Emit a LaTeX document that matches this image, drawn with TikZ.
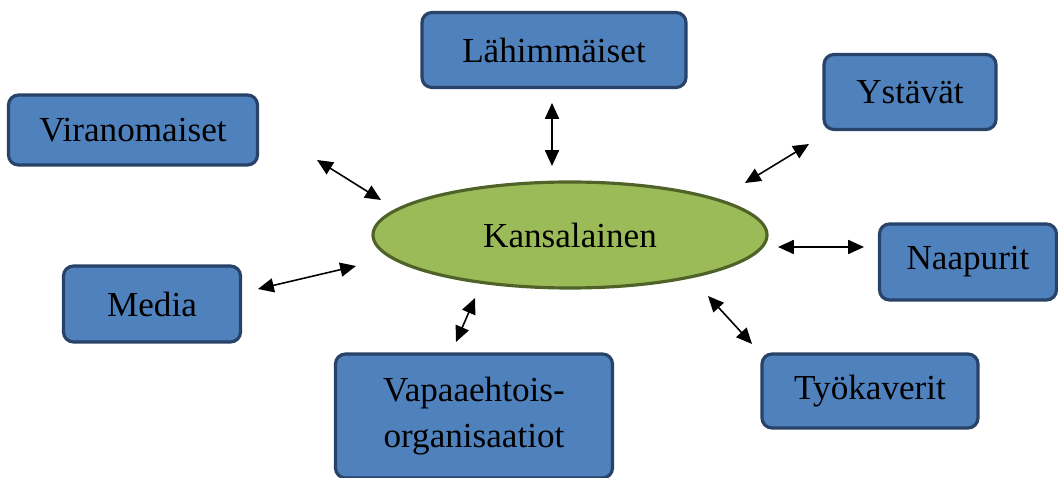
\documentclass[tikz,border=0pt]{standalone}
\usepackage{fontspec}
\setmainfont{Liberation Serif}
\usetikzlibrary{arrows.meta,shapes.geometric}
\definecolor{boxblue}{RGB}{79,129,189}
\definecolor{boxedge}{RGB}{40,66,104}
\definecolor{ellgreen}{RGB}{155,187,89}
\definecolor{elledge}{RGB}{79,98,40}
\begin{document}
\begin{tikzpicture}[line width=1.8pt,
  actor/.style={draw=boxedge,fill=boxblue,rounded corners=0.2cm,align=center,
    inner sep=0pt,font=\fontsize{20}{26}\selectfont},
  link/.style={{Triangle[length=9pt,width=8pt]}-{Triangle[length=9pt,width=8pt]},
    line width=0.9pt,black}]
\useasboundingbox (0,0) rectangle (21.16,9.56);
% centre
\node[ellipse,draw=elledge,fill=ellgreen,minimum width=7.88cm,minimum height=2.12cm,
  inner sep=0pt,font=\fontsize{20}{24}\selectfont] (kans) at (11.40,4.86) {Kansalainen};
%% boxes round it
\node[actor,minimum width=5.28cm,minimum height=1.5cm] (lahi) at (11.08,8.56) {Lähimmäiset};
\node[actor,minimum width=3.44cm,minimum height=1.5cm] (ystavat) at (18.20,7.72) {Ystävät};
\node[actor,minimum width=4.98cm,minimum height=1.4cm] (viran) at (2.66,6.96) {Viranomaiset};
\node[actor,minimum width=3.54cm,minimum height=1.52cm] (naap) at (19.36,4.32) {Naapurit};
\node[actor,minimum width=3.54cm,minimum height=1.52cm] (media) at (3.04,3.48) {Media};
\node[actor,minimum width=5.54cm,minimum height=2.48cm] (vapa) at (9.48,1.24) {Vapaaehtois-\\organisaatiot};
\node[actor,minimum width=4.32cm,minimum height=1.48cm] (tyok) at (17.40,1.74) {Työkaverit};
%% arrow ends
\coordinate (v1) at (6.34,6.36) ; \coordinate (v2) at (7.62,5.56) ;
\coordinate (l1) at (11.04,7.50) ; \coordinate (l2) at (11.04,6.24) ;
\coordinate (y1) at (16.18,6.68) ; \coordinate (y2) at (14.90,5.90) ;
\coordinate (n1) at (15.56,4.62) ; \coordinate (n2) at (17.28,4.62) ;
\coordinate (m1) at (5.16,3.78) ; \coordinate (m2) at (7.12,4.24) ;
\coordinate (a1) at (9.50,3.60) ; \coordinate (a2) at (9.12,2.72) ;
\coordinate (t1) at (14.16,3.64) ; \coordinate (t2) at (15.04,2.68) ;
%% arrows
\draw[link] (v1) -- (v2);
\draw[link] (l1) -- (l2);
\draw[link] (y1) -- (y2);
\draw[link] (n1) -- (n2);
\draw[link] (m1) -- (m2);
\draw[link] (a1) -- (a2);
\draw[link] (t1) -- (t2);
\end{tikzpicture}
\end{document}
